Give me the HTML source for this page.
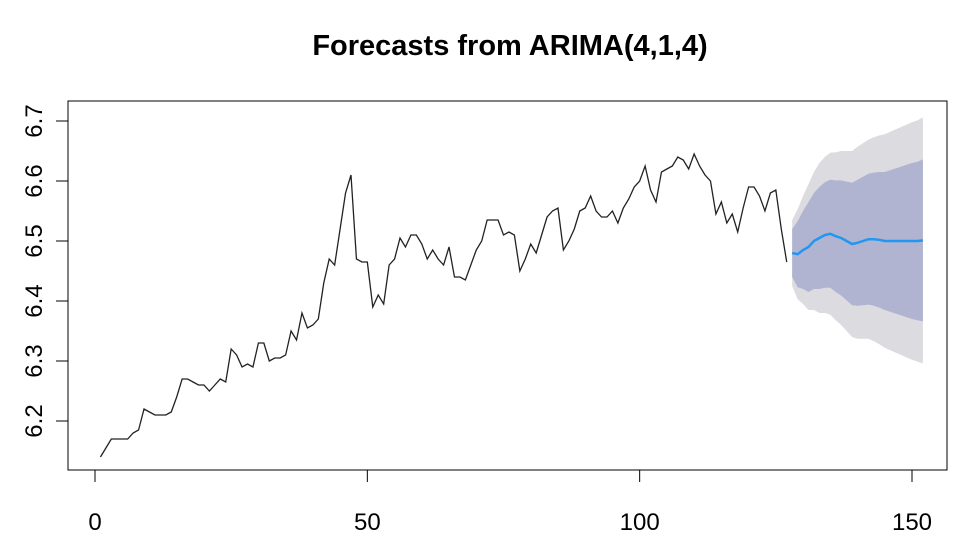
<!DOCTYPE html>
<html><head><meta charset="utf-8"><style>
body{margin:0;background:#fff;}
svg text{font-family:"Liberation Sans",Arial,sans-serif;fill:#000;}
</style></head><body>
<svg id="chart" width="958" height="550" viewBox="0 0 958 550" xmlns="http://www.w3.org/2000/svg">
<text x="510" y="55" text-anchor="middle" font-size="29" font-weight="bold">Forecasts from ARIMA(4,1,4)</text>
<g id="bands"></g>
<g id="series"></g>
<rect x="68" y="101" width="879" height="369" fill="none" stroke="#000" stroke-width="1"/>
<g id="axes"></g>
</svg>
<script>
const observed=[6.14,6.155,6.17,6.17,6.17,6.17,6.18,6.185,6.22,6.215,6.21,6.21,6.21,6.215,6.24,6.27,6.27,6.265,6.26,6.26,6.25,6.26,6.27,6.265,6.32,6.31,6.29,6.295,6.29,6.33,6.33,6.30,6.305,6.305,6.31,6.35,6.335,6.38,6.355,6.36,6.37,6.43,6.47,6.46,6.52,6.58,6.61,6.47,6.465,6.465,6.39,6.41,6.395,6.46,6.47,6.505,6.49,6.51,6.51,6.495,6.47,6.485,6.47,6.46,6.49,6.44,6.44,6.435,6.46,6.485,6.5,6.535,6.535,6.535,6.51,6.515,6.51,6.45,6.47,6.495,6.48,6.51,6.54,6.55,6.555,6.485,6.5,6.52,6.55,6.555,6.575,6.55,6.54,6.54,6.55,6.53,6.555,6.57,6.59,6.6,6.625,6.585,6.565,6.615,6.62,6.625,6.64,6.635,6.62,6.645,6.625,6.61,6.6,6.545,6.565,6.53,6.545,6.515,6.555,6.59,6.59,6.575,6.55,6.58,6.585,6.52,6.465];
const forecastMean=[6.48,6.478,6.485,6.49,6.5,6.505,6.51,6.512,6.508,6.505,6.5,6.495,6.497,6.5,6.503,6.503,6.502,6.5,6.5,6.5,6.5,6.5,6.5,6.5,6.501];
const half80=[0.04,0.055,0.065,0.075,0.08,0.085,0.088,0.09,0.093,0.096,0.099,0.102,0.105,0.107,0.109,0.111,0.113,0.115,0.118,0.121,0.124,0.127,0.13,0.132,0.135];
const half95=[0.055,0.075,0.09,0.105,0.115,0.125,0.13,0.135,0.14,0.145,0.15,0.155,0.16,0.163,0.166,0.17,0.174,0.178,0.182,0.186,0.19,0.194,0.198,0.201,0.205];
const xTicks=[0,50,100,150];
const yTicks=[6.2,6.3,6.4,6.5,6.6,6.7];

const NS="http://www.w3.org/2000/svg";
const xs=t=>95+t*(912-95)/150;
const ys=v=>421-(v-6.2)*600;
function mk(tag,attrs,parent){const e=document.createElementNS(NS,tag);for(const k in attrs)e.setAttribute(k,attrs[k]);document.getElementById(parent).appendChild(e);return e;}
const n=observed.length;
const fT=forecastMean.map((_,i)=>n+1+i);
function band(h){
  const up=fT.map((t,i)=>xs(t)+','+ys(forecastMean[i]+h[i]));
  const dn=fT.map((t,i)=>xs(t)+','+ys(forecastMean[i]-h[i])).reverse();
  return up.concat(dn).join(' ');
}
let b=mk('polygon',{points:band(half95),fill:'#dbdbe0'},'bands');


b=mk('polygon',{points:band(half80),fill:'#b0b4d0'},'bands');


let l=mk('polyline',{points:observed.map((v,i)=>xs(i+1)+','+ys(v)).join(' '),fill:'none',stroke:'#222',"stroke-width":1.3},'series');


l=mk('polyline',{points:forecastMean.map((v,i)=>xs(fT[i])+','+ys(v)).join(' '),fill:'none',stroke:'#2196f3',"stroke-width":2.5},'series');


xTicks.forEach(t=>{
  const tk=mk('line',{x1:xs(t),x2:xs(t),y1:470,y2:482,stroke:'#000'},'axes');
  
  
  const tx=mk('text',{x:xs(t),y:530,"text-anchor":"middle","font-size":24},'axes');
  tx.textContent=t;
  
  
});
yTicks.forEach(v=>{
  const tk=mk('line',{x1:56,x2:68,y1:ys(v),y2:ys(v),stroke:'#000'},'axes');
  
  
  const tx=mk('text',{x:0,y:0,"text-anchor":"middle","font-size":24,transform:`translate(42,${ys(v)}) rotate(-90)`},'axes');
  tx.textContent=v.toFixed(1);
  
  
});
</script>
</body></html>
